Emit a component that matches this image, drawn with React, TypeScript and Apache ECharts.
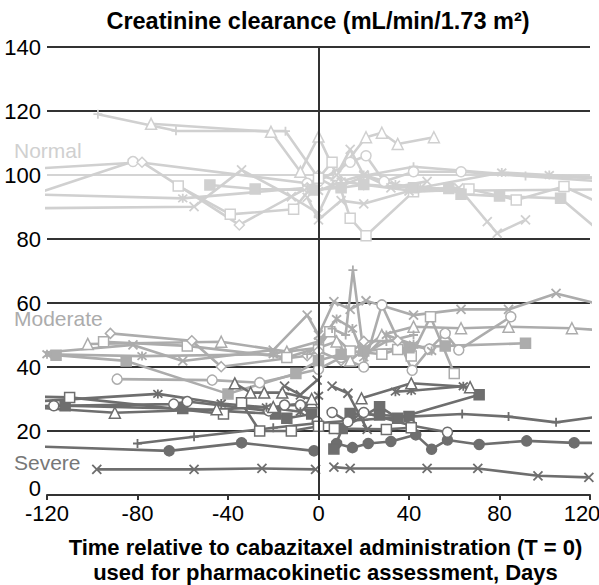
import React, { useEffect, useRef } from "react";
import * as echarts from "echarts";

// ---------- colours by renal function group ----------
const NORMAL_COLOR = "#d0d0d0";
const MODERATE_COLOR = "#acacac";
const SEVERE_COLOR = "#6e6e6e";

const xTicks = [-120, -80, -40, 0, 40, 80, 120];
const yTicks = [0, 20, 40, 60, 80, 100, 120, 140];
const groupLabels = ["Normal", "Moderate", "Severe"];

type P = [number, number] | null;

// ---------- Normal patients ----------
const normalPlus: P[] = [[-97.5, 119], [-63, 113.8], [-14.6, 113.7], [0, 99], [8, 96], [22, 100], [42, 102.6], [91.5, 99.7], [125, 99]];
const normalTri: P[] = [[-74, 116], [-21, 113.5], [-8, 101], [0, 112], [8, 100], [21, 111.8], [28, 113.2], [35, 109.7], [51, 111.8]];
const normalCirc: P[] = [[-130, 93], [-82, 104.2], [-5, 97.4], [0, 98], [14, 104], [21, 106], [29, 98], [42, 101], [63, 101], [125, 98]];
const normalDiam: P[] = [[-130, 101.8], [-78, 104], [-35, 84.4], [-5, 96], [0, 100], [10, 98], [20, 97], [42, 95], [125, 95.5]];
const normalSq: P[] = [[-62, 96.6], [-39, 87.7], [-11, 89.3], [0, 99], [6, 104], [14, 86.5], [21, 81], [42, 94.8], [66.5, 95.6], [87.4, 92.2], [108.5, 96.4], [125, 91]];
const normalAst: P[] = [[-130, 94], [-60, 92.7], [-5, 96], [0, 95], [10, 98], [20, 100], [34, 97], [45, 96], [81, 100.8], [102, 100], [125, 99]];
const normalAst2: P[] = [[-130, 89.6], [-55, 90.1], [-34, 101.6], [-12, 93.2], [0, 88], [8, 100], [14, 108], [20, 100], [32, 96], [48, 98]];
const normalFsq: P[] = [[-48, 96.9], [-28, 95.6], [-2, 95.3], [10, 96], [20, 97], [42, 96], [57.6, 95.8], [63, 94], [80, 93.4], [107, 92.7], [125, 82]];
const normalX: P[] = [[-5, 93], [0, 86], [10, 92], [20, 91], [40, 95], [62, 96], [74.6, 85.4], [79, 81.8], [91.5, 86]];

// ---------- Moderate patients ----------
const modX: P[] = [[-130, 44], [-82, 46.9], [-60, 41.9], [-20, 45.3], [-5, 56.2], [0, 50], [6.8, 60.4], [14, 58], [21, 60.7], [42, 56.2], [63, 58], [84, 58], [105, 63], [125, 59.5]];
const modTri: P[] = [[-102, 47.2], [-43, 47.9], [-14, 44.8], [0, 46], [8, 48], [14, 42], [28, 50], [42, 52.6], [63, 52.1], [84, 52.6], [112, 52.1], [125, 51.5]];
const modSq: P[] = [[-95, 47.9], [-58, 46.6], [-14, 43], [0, 46], [5, 51], [14, 45], [28, 44], [35, 45.5], [41, 43.4], [49.5, 55.7], [60, 38]];
const modDiam: P[] = [[-92, 50.5], [-56, 48.2], [-43, 40.1], [-5, 43.5], [0, 45], [10, 42], [20, 48], [35, 48.2], [49, 45.6]];
const modCirc: P[] = [[-89, 36.2], [-47, 35.9], [-26, 35.1], [0, 39.3], [10, 43], [20, 40], [28, 59.4], [41.4, 39], [49, 45.6], [56, 50.5], [62, 45.3], [85, 55.7]];
const modFsq: P[] = [[-130, 43.5], [-116, 43.7], [-85, 41.9], [-40, 31.6], [-10, 38], [0, 42], [10, 44], [20, 45], [40, 46], [56, 46.6], [91.5, 47.4]];
const modAst: P[] = [[-120, 44], [-78, 43.4], [-20, 44], [0, 48], [8, 55], [15, 52], [20, 43], [30, 50], [42, 47], [50, 45]];
const modPlus: P[] = [[-5, 44], [0, 47], [6, 52], [12, 50], [15.2, 70.3], [20, 44], [30, 48], [42, 50]];

// ---------- Severe patients ----------
const sevX: P[] = [[-98, 8], [-55, 8], [-25, 8.3], [-1.3, 8], null, [6.8, 8.7], [14, 8.3], [48, 8.3], [70.4, 8.3], [97, 6], [119.5, 5.5]];
const sevFcirc: P[] = [[-130, 15.3], [-66, 13.8], [-34, 16.3], [-2, 13.8], null, [8, 16.1], [15, 14.8], [22, 16.1], [32, 16.7], [43, 18.8], [50, 14.3], [57, 17.2], [71, 15.8], [92, 16.9], [113, 16.3], [125, 16.3]];
const sevPlus: P[] = [[-80, 16.1], [-55, 18.2], [-20, 21], [0, 22.5], [20, 23.5], [40, 24.5], [63.5, 25.3], [84, 24.5], [105, 22.7], [125, 24.6]];
const sevFsqA: P[] = [[6.8, 14.4], [10.5, 20.8], [27, 27.6], [35, 24], [71, 31.3]];
const sevFsqB: P[] = [[-130, 27.6], [-112, 27.9], [-60, 27], [-19, 25.3], [-14, 24], [-3, 25.3], null, [14, 25.5], [27, 25], [40, 24.5]];
const sevCirc: P[] = [[-130, 27.5], [-117, 27.9], [-64, 28.4], [-58, 29.2], [-22, 26.3], [-15, 28.1], [-8, 28.1], [-0.6, 22.9], null, [6, 25.8], [13, 22.9], [20, 25.8], [41, 21.7], [57, 19.6]];
const sevSq: P[] = [[-130, 30.8], [-110, 30.5], [-42, 25.3], [-34, 28.8], [-26, 20], [-12, 20], [0, 21.5], null, [7, 20.8], [30, 20.5], [41, 21]];
const sevAst: P[] = [[-130, 29], [-71, 31.6], [-43, 28.6], [-23, 27.4], [-8, 26], [0, 31], null, [34, 32.3], [41, 32.6], [64, 34]];
const sevTri: P[] = [[-130, 27.5], [-90, 25.7], [-45, 26.8], [-20, 27.5], [-3, 29]];
const sevTri2: P[] = [[-37, 34.9], [-30, 32], [-24, 32], [-16, 32], [-3, 30], null, [19, 30.2], [41, 34.9], [67, 33.7]];
const sevX2: P[] = [[-15, 34], [-8, 31.3], [-0.6, 35.9], null, [6, 34], [13, 31.8], [21.5, 20.5]];

const CROSS = "path://M0,0L10,10M10,0L0,10";
const PLUS = "path://M5,0L5,10M0,5L10,5";
const AST = "path://M0,0L10,10M10,0L0,10M5,-1L5,11";

function mk(data: P[], color: string, symbol: string, filled: boolean, z: number) {
  const stroked = symbol.startsWith("path://");
  return {
    type: "line",
    data: data.map((p) => (p === null ? ["-", "-"] : p)),
    symbol,
    symbolSize: stroked ? 9 : symbol === "triangle" ? 11 : 10,
    showAllSymbol: true,
    connectNulls: false,
    clip: true,
    z,
    lineStyle: { color, width: 2.6 },
    itemStyle: {
      color: filled ? color : stroked ? "rgba(0,0,0,0)" : "#fff",
      borderColor: color,
      borderWidth: stroked ? 1.8 : 1.5,
    },
    emphasis: { disabled: true },
  };
}

export default function App() {
  const ref = useRef<HTMLDivElement>(null);
  useEffect(() => {
    if (!ref.current) return;
    const chart = echarts.init(ref.current, null, { renderer: "svg" });
    const font = "Liberation Sans";
    const series: any[] = [
      {
        type: "line",
        data: [],
        z: 1,
        markLine: {
          silent: true,
          symbol: "none",
          label: { show: false },
          lineStyle: { color: "#333", width: 2, type: "solid" },
          data: [{ xAxis: 0 }],
        },
      },
      mk(normalPlus, NORMAL_COLOR, PLUS, false, 2),
      mk(normalTri, NORMAL_COLOR, "triangle", false, 2),
      mk(normalCirc, NORMAL_COLOR, "circle", false, 2),
      mk(normalDiam, NORMAL_COLOR, "diamond", false, 2),
      mk(normalSq, NORMAL_COLOR, "rect", false, 2),
      mk(normalAst, NORMAL_COLOR, AST, false, 2),
      mk(normalAst2, NORMAL_COLOR, CROSS, false, 2),
      mk(normalFsq, NORMAL_COLOR, "rect", true, 2),
      mk(normalX, NORMAL_COLOR, CROSS, false, 2),
      mk(modX, MODERATE_COLOR, CROSS, false, 3),
      mk(modTri, MODERATE_COLOR, "triangle", false, 3),
      mk(modSq, MODERATE_COLOR, "rect", false, 3),
      mk(modDiam, MODERATE_COLOR, "diamond", false, 3),
      mk(modCirc, MODERATE_COLOR, "circle", false, 3),
      mk(modFsq, MODERATE_COLOR, "rect", true, 3),
      mk(modAst, MODERATE_COLOR, AST, false, 3),
      mk(modPlus, MODERATE_COLOR, PLUS, false, 3),
      mk(sevX, SEVERE_COLOR, CROSS, false, 4),
      mk(sevFcirc, SEVERE_COLOR, "circle", true, 4),
      mk(sevPlus, SEVERE_COLOR, PLUS, false, 4),
      mk(sevFsqA, SEVERE_COLOR, "rect", true, 4),
      mk(sevFsqB, SEVERE_COLOR, "rect", true, 4),
      mk(sevCirc, SEVERE_COLOR, "circle", false, 4),
      mk(sevSq, SEVERE_COLOR, "rect", false, 4),
      mk(sevAst, SEVERE_COLOR, AST, false, 4),
      mk(sevTri, SEVERE_COLOR, "triangle", false, 4),
      mk(sevTri2, SEVERE_COLOR, "triangle", false, 4),
      mk(sevX2, SEVERE_COLOR, CROSS, false, 4),
    ];
    const gridColors = yTicks.map((v) => (v === 100 ? "#d4d4d4" : "#333"));
    const maxX = xTicks[xTicks.length - 1];
    chart.setOption({
      animation: false,
      textStyle: { fontFamily: font },
      grid: { left: 47, right: 9, top: 47, bottom: 90, containLabel: false, outerBoundsMode: "none" },
      xAxis: {
        type: "value",
        min: xTicks[0],
        max: maxX,
        interval: 40,
        axisLine: { onZero: false, lineStyle: { color: "#333", width: 2 } },
        axisTick: { show: true, length: 5, lineStyle: { color: "#333", width: 2 } },
        axisLabel: {
          fontSize: 22,
          color: "#000",
          margin: 7,
          fontFamily: font,
          formatter: (v: number) => (v === maxX ? `{m|${v}}` : String(v)),
          rich: { m: { fontSize: 22, color: "#000", fontFamily: font, padding: [0, 16, 0, 0] } },
        },
        splitLine: { show: false },
        name: "Time relative to cabazitaxel administration (T = 0)\nused for pharmacokinetic assessment, Days",
        nameLocation: "middle",
        nameGap: 40,
        nameTextStyle: {
          fontSize: 22,
          fontWeight: "bold",
          color: "#000",
          lineHeight: 25,
          fontFamily: font,
          padding: [0, 0, 0, 14],
        },
      },
      yAxis: {
        type: "value",
        min: yTicks[0],
        max: yTicks[yTicks.length - 1],
        interval: 20,
        axisLine: { show: false },
        axisTick: { show: false },
        axisLabel: {
          fontSize: 22,
          color: "#000",
          margin: 6,
          fontFamily: font,
          formatter: (v: number) => (v === 0 ? `{z|${v}}` : String(v)),
          rich: { z: { fontSize: 22, color: "#000", fontFamily: font, padding: [0, 0, 14, 0] } },
        },
        splitLine: { show: true, lineStyle: { color: gridColors, width: 2 } },
      },
      graphic: [
        {
          type: "text",
          x: 318,
          y: 21,
          style: {
            text: "Creatinine clearance (mL/min/1.73 m²)",
            textAlign: "center",
            textVerticalAlign: "middle",
            font: `bold 23.5px "${font}"`,
            fill: "#000",
          },
        },
        {
          type: "text",
          x: 14,
          y: 150,
          style: { text: groupLabels[0], textVerticalAlign: "middle", font: `21px "${font}"`, fill: "#d0d0d0" },
        },
        {
          type: "text",
          x: 14,
          y: 318,
          style: { text: groupLabels[1], textVerticalAlign: "middle", font: `21px "${font}"`, fill: "#acacac" },
        },
        {
          type: "text",
          x: 14,
          y: 462,
          style: { text: groupLabels[2], textVerticalAlign: "middle", font: `21px "${font}"`, fill: "#777" },
        },
      ],
      series,
    });
    return () => chart.dispose();
  }, []);
  return (
    <div
      ref={ref}
      style={{ position: "fixed", left: 0, top: 0, width: 599, height: 585, background: "#fff" }}
    />
  );
}
